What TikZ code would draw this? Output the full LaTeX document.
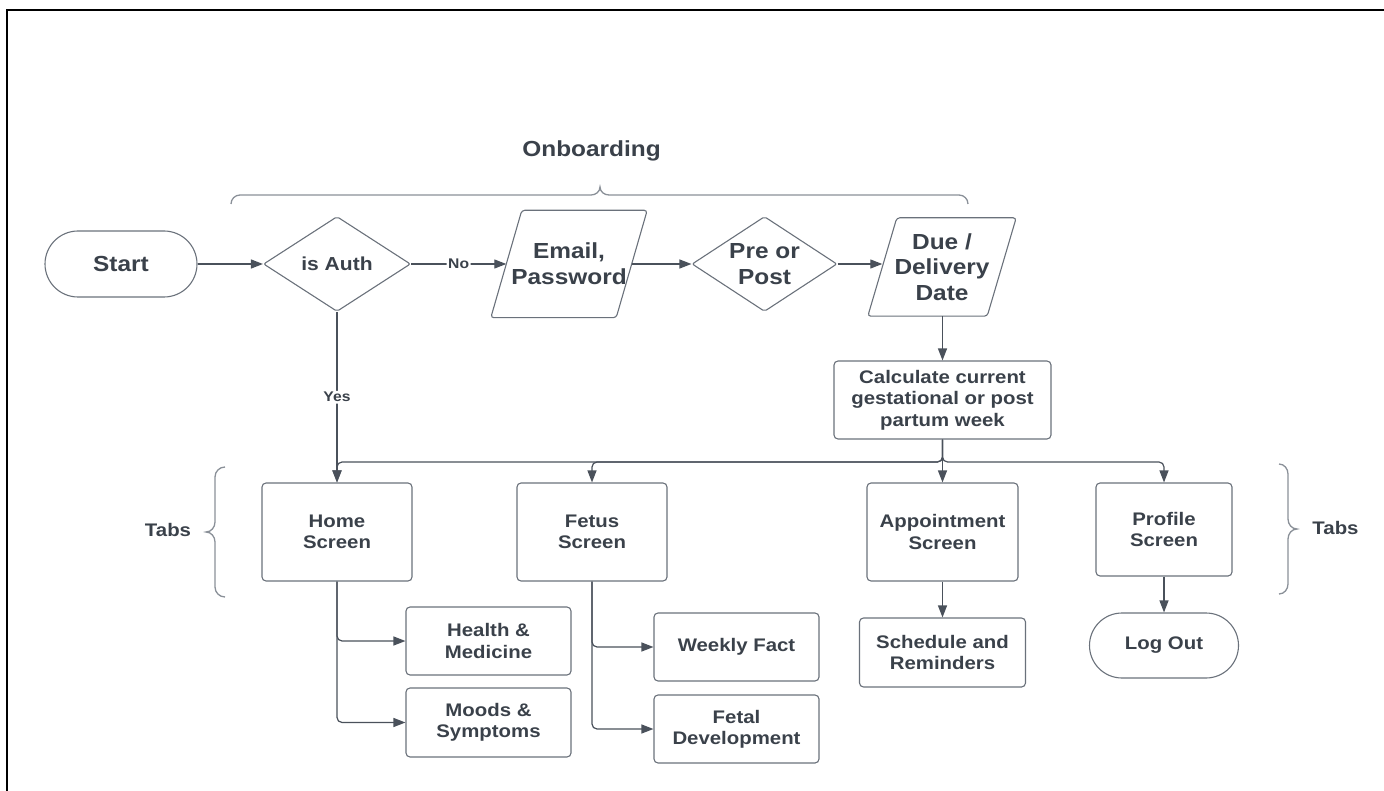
\documentclass[tikz,border=0pt]{standalone}
\usepackage{fontspec}
\setmainfont{Liberation Sans}[FakeStretch=1.12]
\usetikzlibrary{arrows.meta,shapes.geometric,calc}
\definecolor{txt}{HTML}{3A414A}
\definecolor{bord}{HTML}{6A717B}
\definecolor{conc}{HTML}{4A515B}
\definecolor{brc}{HTML}{8A9098}
\tikzset{
  txtbase/.style={text=txt, align=center, inner sep=0pt},
  fbig/.style={font=\fontsize{21.8}{25.6}\selectfont\bfseries},
  fmid/.style={font=\fontsize{18.2}{21.4}\selectfont\bfseries},
  fsmall/.style={font=\fontsize{14}{16}\selectfont\bfseries},
  boxf/.style={txtbase, fmid, draw=bord, line width=1.1pt, rounded corners=4pt},
  termf/.style={txtbase, draw=bord, line width=1.1pt},
  dia/.style={txtbase, diamond, draw=bord, line width=1.1pt, rounded corners=2pt, shape aspect=1.5},
  paratxt/.style={txtbase, fbig},
  paraline/.style={draw=bord, line width=1.1pt, rounded corners=3pt},
  conn/.style={draw=conc, line width=1.2pt, -{Triangle[length=12pt,width=9pt]}, rounded corners=5pt},
  lbl/.style={txtbase, fsmall, fill=white, inner sep=1.5pt},
  bracel/.style={draw=brc, line width=1.3pt},
}
\begin{document}
\begin{tikzpicture}[x=1pt,y=-1pt]
\useasboundingbox (0,0) rectangle (1384,791);
\draw[black, line width=2.2pt] (7,791) -- (7,10) -- (1384,10);

% Onboarding
\node[txtbase, fbig, anchor=base] (onb) at (591.5,157) {Onboarding};
\draw[bracel] (231,204) to[out=90,in=180] (240,195) -- (591,195)
  to[out=0,in=-90] (600,187) to[out=-90,in=180] (609,195) -- (959,195)
  to[out=0,in=90] (968,204);

% Row 1
\node[termf, fbig, minimum width=152pt, minimum height=66pt, rounded corners=33pt] (start) at (121,264) {Start};
\node[dia, font=\fontsize{18.8}{22}\selectfont\bfseries, minimum width=147pt, minimum height=95pt] (auth) at (337,264) {is Auth};
\node[paratxt, minimum width=125pt, minimum height=107pt] (email) at (569,264) {Email,\\Password};
\draw[paraline] ([xshift=15.5pt]email.north west) -- ([xshift=15.5pt]email.north east)
  -- ([xshift=-15.5pt]email.south east) -- ([xshift=-15.5pt]email.south west) -- cycle;
\node[dia, fbig, minimum width=145pt, minimum height=95pt] (pre) at (764.5,264) {Pre or\\Post};
\node[paratxt, minimum width=119pt, minimum height=98pt] (due) at (942,267) {Due /\\Delivery\\Date};
\draw[paraline] ([xshift=14.5pt]due.north west) -- ([xshift=14.5pt]due.north east)
  -- ([xshift=-14.5pt]due.south east) -- ([xshift=-14.5pt]due.south west) -- cycle;
\node[boxf, minimum width=217pt, minimum height=78pt] (calc) at (942.5,400) {Calculate current\\gestational or post\\partum week};

% Tabs
\node[boxf, minimum width=150pt, minimum height=98pt] (home) at (337,532) {Home\\Screen};
\node[boxf, minimum width=150pt, minimum height=98pt] (fetus) at (592,532) {Fetus\\Screen};
\node[boxf, minimum width=151pt, minimum height=98pt] (appt) at (942.5,532) {Appointment\\Screen};
\node[boxf, minimum width=136pt, minimum height=93pt] (profile) at (1164,529.5) {Profile\\Screen};

% Sub screens
\node[boxf, minimum width=165pt, minimum height=68pt] (health) at (488.5,641) {Health \&\\Medicine};
\node[boxf, minimum width=165pt, minimum height=69pt] (moods) at (488.5,722.5) {Moods \&\\Symptoms};
\node[boxf, minimum width=165pt, minimum height=68pt] (weekly) at (736.5,647) {Weekly Fact};
\node[boxf, minimum width=165pt, minimum height=68pt] (fetal) at (736.5,729) {Fetal\\Development};
\node[boxf, minimum width=166pt, minimum height=69pt] (sched) at (942.5,652.5) {Schedule and\\Reminders};
\node[termf, fmid, minimum width=149pt, minimum height=65pt, rounded corners=32.5pt] (logout) at (1164,645.5) {Log Out};

% Tabs labels and braces
\node[txtbase, fmid] (tabsl) at (168,530) {Tabs};
\node[txtbase, fmid] (tabsr) at (1335.5,528) {Tabs};
\draw[bracel] (225,467) to[out=180,in=90] (215,477) -- (215,522)
  to[out=-90,in=0] (206,532) to[out=0,in=90] (215,542) -- (215,587)
  to[out=-90,in=180] (225,597);
\draw[bracel] (1279,464) to[out=0,in=90] (1288,474) -- (1288,519)
  to[out=-90,in=180] (1297,529) to[out=180,in=90] (1288,539) -- (1288,584)
  to[out=-90,in=0] (1279,594);

% Connectors
\draw[conn] (start) -- (auth);
\draw[conn] (auth) -- node[lbl] {No} (email.west);
\draw[conn] (email.east) -- (pre);
\draw[conn] (pre.east) -- (pre.east -| due.west);
\draw[conn] (calc.north |- due.south) -- (calc.north);
\draw[conn, line width=1.8pt] (auth.south) -- node[lbl, pos=0.5] {Yes} (home.north);

\coordinate (bus) at (942.5,462);
\draw[conn] (calc.south) -- (appt.north);
\draw[conn] (calc.south) |- (bus -| fetus.north) -- (fetus.north);
\draw[conn] (calc.south) |- (bus -| home.north) -- (home.north);
\draw[conn] (calc.south) |- (bus -| profile.north) -- (profile.north);

\draw[conn] (home.south) |- (health.west);
\draw[conn] (home.south) |- (moods.west);
\draw[conn] (fetus.south) |- (weekly.west);
\draw[conn] (fetus.south) |- (fetal.west);
\draw[conn] (appt.south) -- (sched.north);
\draw[conn] (profile.south) -- (logout.north);
\end{tikzpicture}
\end{document}
